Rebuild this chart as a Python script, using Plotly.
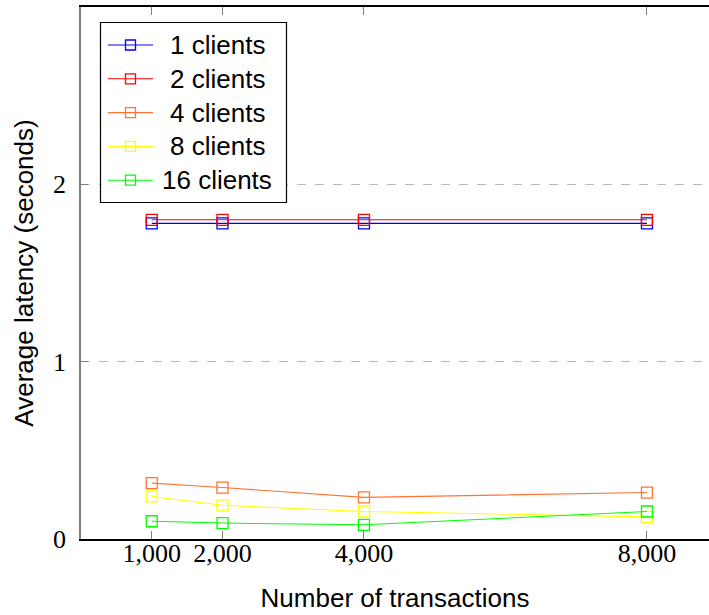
import plotly.graph_objects as go

# Transaction counts on the x axis
transactions = [1000, 2000, 4000, 8000]

# Average latency (seconds) per client count
latency_1_clients = [1.78, 1.78, 1.78, 1.78]
latency_2_clients = [1.80, 1.80, 1.80, 1.80]
latency_4_clients = [0.315, 0.29, 0.235, 0.262]
latency_8_clients = [0.24, 0.19, 0.155, 0.125]
latency_16_clients = [0.10, 0.09, 0.08, 0.155]

series_names = ["1 clients", "2 clients", "4 clients", "8 clients", "16 clients"]
series_values = [latency_1_clients, latency_2_clients, latency_4_clients,
                 latency_8_clients, latency_16_clients]
series_colors = ["#0000ff", "#ff0000", "#ff7433", "#ffff00", "#00ff00"]

x_tick_values = [1000, 2000, 4000, 8000]
x_tick_labels = ["1,000", "2,000", "4,000", "8,000"]
y_tick_values = [0, 1, 2]

W, H = 709, 615
M_L, M_R, M_T, M_B = 81, 0, 7, 76
PLOT_W = W - M_L - M_R
PLOT_H = H - M_T - M_B

serif = "Liberation Serif"
sans = "Liberation Sans"


def px_x(px):
    """Pixel column -> paper x fraction."""
    return (px - M_L) / PLOT_W


def px_y(py):
    """Pixel row (from top) -> paper y fraction."""
    return (H - M_B - py) / PLOT_H


fig = go.Figure()
for name, vals, col in zip(series_names, series_values, series_colors):
    fig.add_trace(go.Scatter(
        x=transactions, y=vals, name=name, mode="lines+markers",
        line=dict(color=col, width=1.1),
        marker=dict(symbol="square-open", size=11, color=col, line=dict(width=1.3, color=col)),
        showlegend=False,
    ))

# Boxed legend in the upper-left corner
shapes = [dict(type="rect", xref="paper", yref="paper",
               x0=px_x(100.5), x1=px_x(286.5), y0=px_y(202.5), y1=px_y(22.5),
               line=dict(color="black", width=1.2), fillcolor="white", layer="above")]
annotations = []
row0, row_step = 45, 33.8
for i, (name, col) in enumerate(zip(series_names, series_colors)):
    cy = row0 + i * row_step
    shapes.append(dict(type="line", xref="paper", yref="paper",
                       x0=px_x(108), x1=px_x(153), y0=px_y(cy), y1=px_y(cy),
                       line=dict(color=col, width=1.1), layer="above"))
    shapes.append(dict(type="rect", xref="paper", yref="paper",
                       x0=px_x(125.5), x1=px_x(135.5), y0=px_y(cy + 5), y1=px_y(cy - 5),
                       line=dict(color=col, width=1.3), fillcolor="rgba(0,0,0,0)", layer="above"))
    annotations.append(dict(xref="paper", yref="paper", x=px_x(217), y=px_y(cy),
                            text=name, showarrow=False, xanchor="center", yanchor="middle",
                            font=dict(family=sans, size=26, color="black")))

fig.update_layout(
    width=W, height=H,
    margin=dict(l=M_L, r=M_R, t=M_T, b=M_B),
    plot_bgcolor="white", paper_bgcolor="white",
    showlegend=False,
    shapes=shapes,
    annotations=annotations,
    xaxis=dict(
        range=[0, 8877],
        tickmode="array", tickvals=x_tick_values, ticktext=x_tick_labels,
        ticks="inside", ticklen=8, tickcolor="#808080", tickwidth=1,
        showline=True, linecolor="black", linewidth=1.5, mirror="ticks",
        showgrid=False, zeroline=False,
        tickfont=dict(family=serif, size=26, color="black"),
        ticklabelstandoff=-10,
        title=dict(text="Number of transactions", font=dict(family=sans, size=26, color="black"), standoff=22),
    ),
    yaxis=dict(
        range=[0, 3],
        tickmode="array", tickvals=y_tick_values,
        ticks="inside", ticklen=7, tickcolor="#808080", tickwidth=1,
        showline=True, linecolor="#808080", linewidth=1.5,
        showgrid=True, gridcolor="#b8b8b8", griddash="dash", gridwidth=1,
        zeroline=False,
        tickfont=dict(family=serif, size=26, color="black"),
        ticklabelstandoff=8,
        title=dict(text="Average latency (seconds)", font=dict(family=sans, size=26, color="black"), standoff=12),
    ),
)

fig.write_html("out.html")
